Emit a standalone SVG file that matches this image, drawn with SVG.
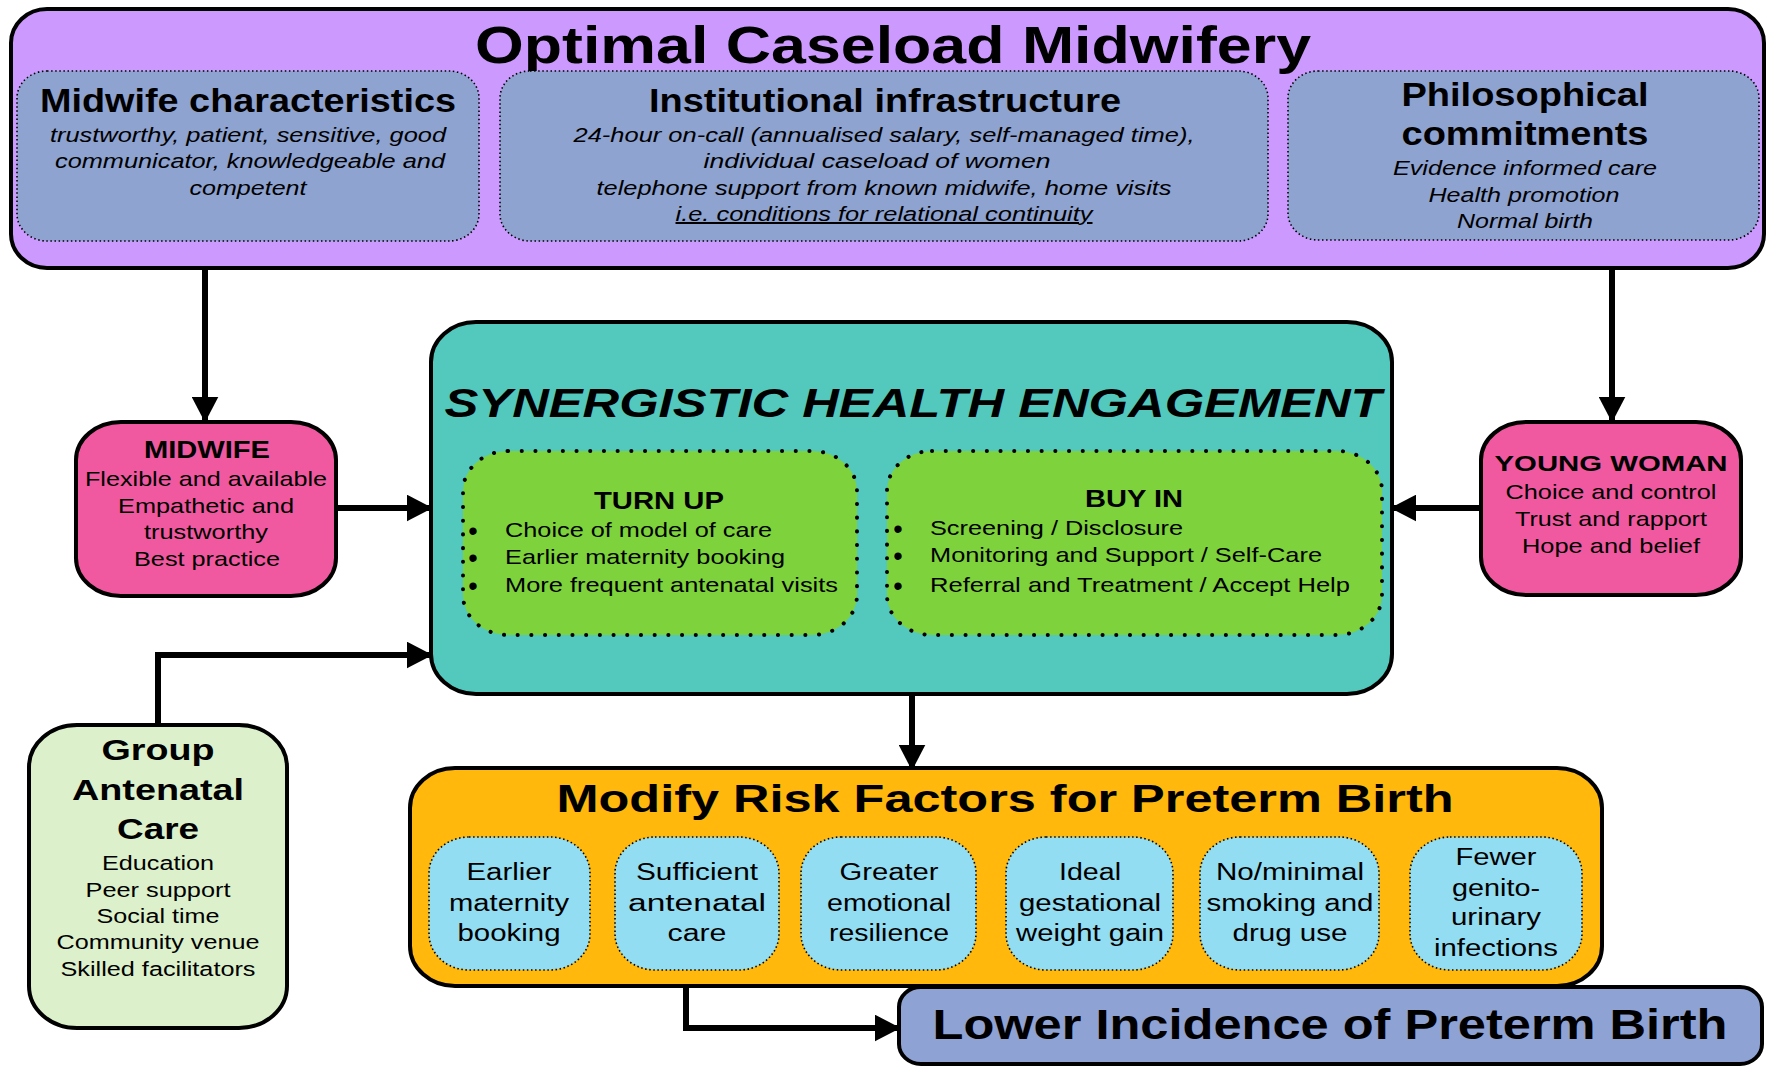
<svg xmlns="http://www.w3.org/2000/svg" width="1769" height="1066" viewBox="0 0 1769 1066">
<defs>
<style>
text{font-family:"Liberation Sans",Arial,sans-serif;fill:#000}
.c{text-anchor:middle}
.b{font-weight:bold}
.i{font-style:italic}
.sub{font-size:20px;font-style:italic}
.h2{font-size:33px;font-weight:bold}
.nb{font-size:21px}
.bul{font-size:27px;text-anchor:middle}
.bx{font-size:23px}
.frame{stroke:#000;stroke-width:4}
.dot{stroke:#000;stroke-width:1.6;stroke-dasharray:1.5 2.6;fill:#8EA3D0}
.gdot{stroke:#000;stroke-width:4;stroke-dasharray:0.1 13.6;stroke-linecap:round;fill:#7ED23B}
.bdot{stroke:#000;stroke-width:1.6;stroke-dasharray:1.5 2.6;fill:#93DDF2}
.con{fill:none;stroke:#000;stroke-width:6;marker-end:url(#ah)}
</style>
<marker id="ah" viewBox="0 0 10 10" refX="9" refY="5" markerUnits="userSpaceOnUse" markerWidth="26" markerHeight="27" orient="auto" preserveAspectRatio="none">
<path d="M0,0 L10,5 L0,10 z" fill="#000"/>
</marker>
</defs>
<rect width="1769" height="1066" fill="#fff"/>

<g id="optimal-caseload">
<rect class="frame" x="11" y="9" width="1753" height="259" rx="36" ry="34" fill="#CC99FF"/>
<text class="c b" x="893" y="63" font-size="52" textLength="836" lengthAdjust="spacingAndGlyphs">Optimal Caseload Midwifery</text>
<g id="midwife-characteristics">
<rect class="dot" x="17" y="71" width="462" height="170" rx="30" ry="27"/>
<text class="c h2" x="248" y="112" textLength="416" lengthAdjust="spacingAndGlyphs">Midwife characteristics</text>
<text class="c sub" x="248" y="142" textLength="396" lengthAdjust="spacingAndGlyphs">trustworthy, patient, sensitive, good</text>
<text class="c sub" x="250" y="168" textLength="390" lengthAdjust="spacingAndGlyphs">communicator, knowledgeable and</text>
<text class="c sub" x="248" y="195" textLength="117" lengthAdjust="spacingAndGlyphs">competent</text>
</g>
<g id="institutional-infrastructure">
<rect class="dot" x="500" y="71" width="768" height="170" rx="30" ry="27"/>
<text class="c h2" x="885" y="112" textLength="472" lengthAdjust="spacingAndGlyphs">Institutional infrastructure</text>
<text class="c sub" x="884" y="142" textLength="621" lengthAdjust="spacingAndGlyphs">24-hour on-call (annualised salary, self-managed time),</text>
<text class="c sub" x="877" y="168" textLength="347" lengthAdjust="spacingAndGlyphs">individual caseload of women</text>
<text class="c sub" x="884" y="195" textLength="575" lengthAdjust="spacingAndGlyphs">telephone support from known midwife, home visits</text>
<text class="c sub" x="884" y="221" textLength="417" lengthAdjust="spacingAndGlyphs" text-decoration="underline">i.e. conditions for relational continuity</text>
</g>
<g id="philosophical-commitments">
<rect class="dot" x="1288" y="71" width="471" height="169" rx="30" ry="27"/>
<text class="c h2" x="1525" y="106" textLength="247" lengthAdjust="spacingAndGlyphs">Philosophical</text>
<text class="c h2" x="1525" y="145" textLength="247" lengthAdjust="spacingAndGlyphs">commitments</text>
<text class="c sub" x="1525" y="175" textLength="264" lengthAdjust="spacingAndGlyphs">Evidence informed care</text>
<text class="c sub" x="1524" y="202" textLength="191" lengthAdjust="spacingAndGlyphs">Health promotion</text>
<text class="c sub" x="1525" y="228" textLength="136" lengthAdjust="spacingAndGlyphs">Normal birth</text>
</g>
</g>

<g id="connectors">
<path class="con" d="M205,268 V420"/>
<path class="con" d="M1612,268 V420"/>
<path class="con" d="M336,508 H430"/>
<path class="con" d="M1481,508 H1393"/>
<path class="con" d="M158,725 V655 H430"/>
<path class="con" d="M912,695 V768"/>
<path class="con" d="M686,987 V1028 H898"/>
</g>

<g id="synergistic">
<rect class="frame" x="431" y="322" width="961" height="372" rx="45" ry="40" fill="#53C9BD" stroke-width="5"/>
<text class="c b i" x="913" y="417" font-size="40" textLength="937" lengthAdjust="spacingAndGlyphs">SYNERGISTIC HEALTH ENGAGEMENT</text>
<g id="turn-up">
<rect class="gdot" x="463" y="451" width="394" height="184" rx="45" ry="40"/>
<text class="c b" x="659" y="509" font-size="23" textLength="130" lengthAdjust="spacingAndGlyphs">TURN UP</text>
<text class="bul" x="473" y="540">•</text>
<text class="nb" x="505" y="537" textLength="267" lengthAdjust="spacingAndGlyphs">Choice of model of care</text>
<text class="bul" x="473" y="567">•</text>
<text class="nb" x="505" y="564" textLength="280" lengthAdjust="spacingAndGlyphs">Earlier maternity booking</text>
<text class="bul" x="473" y="595">•</text>
<text class="nb" x="505" y="592" textLength="333" lengthAdjust="spacingAndGlyphs">More frequent antenatal visits</text>
</g>
<g id="buy-in">
<rect class="gdot" x="887" y="451" width="495" height="184" rx="45" ry="40"/>
<text class="c b" x="1134" y="507" font-size="23" textLength="98" lengthAdjust="spacingAndGlyphs">BUY IN</text>
<text class="bul" x="898" y="538">•</text>
<text class="nb" x="930" y="535" textLength="253" lengthAdjust="spacingAndGlyphs">Screening / Disclosure</text>
<text class="bul" x="898" y="565">•</text>
<text class="nb" x="930" y="562" textLength="392" lengthAdjust="spacingAndGlyphs">Monitoring and Support / Self-Care</text>
<text class="bul" x="898" y="595">•</text>
<text class="nb" x="930" y="592" textLength="420" lengthAdjust="spacingAndGlyphs">Referral and Treatment / Accept Help</text>
</g>
</g>

<g id="midwife">
<rect class="frame" x="76" y="422" width="260" height="174" rx="45" ry="38" fill="#F0599F"/>
<text class="c b" x="207" y="458" font-size="23" textLength="126" lengthAdjust="spacingAndGlyphs">MIDWIFE</text>
<text class="c nb" x="206" y="486" textLength="242" lengthAdjust="spacingAndGlyphs">Flexible and available</text>
<text class="c nb" x="206" y="513" textLength="176" lengthAdjust="spacingAndGlyphs">Empathetic and</text>
<text class="c nb" x="206" y="539" textLength="124" lengthAdjust="spacingAndGlyphs">trustworthy</text>
<text class="c nb" x="207" y="566" textLength="146" lengthAdjust="spacingAndGlyphs">Best practice</text>
</g>

<g id="young-woman">
<rect class="frame" x="1481" y="422" width="260" height="173" rx="45" ry="38" fill="#F0599F"/>
<text class="c b" x="1611" y="471" font-size="22" textLength="233" lengthAdjust="spacingAndGlyphs">YOUNG WOMAN</text>
<text class="c nb" x="1611" y="499" textLength="211" lengthAdjust="spacingAndGlyphs">Choice and control</text>
<text class="c nb" x="1611" y="526" textLength="192" lengthAdjust="spacingAndGlyphs">Trust and rapport</text>
<text class="c nb" x="1611" y="553" textLength="178" lengthAdjust="spacingAndGlyphs">Hope and belief</text>
</g>

<g id="group-antenatal-care">
<rect class="frame" x="29" y="725" width="258" height="303" rx="48" ry="42" fill="#DCF1CB"/>
<text class="c b" x="158" y="760" font-size="29" textLength="113" lengthAdjust="spacingAndGlyphs">Group</text>
<text class="c b" x="158" y="800" font-size="29" textLength="172" lengthAdjust="spacingAndGlyphs">Antenatal</text>
<text class="c b" x="158" y="839" font-size="29" textLength="82" lengthAdjust="spacingAndGlyphs">Care</text>
<text class="c" x="158" y="870" font-size="20" textLength="112" lengthAdjust="spacingAndGlyphs">Education</text>
<text class="c" x="158" y="897" font-size="20" textLength="145" lengthAdjust="spacingAndGlyphs">Peer support</text>
<text class="c" x="158" y="923" font-size="20" textLength="123" lengthAdjust="spacingAndGlyphs">Social time</text>
<text class="c" x="158" y="949" font-size="20" textLength="203" lengthAdjust="spacingAndGlyphs">Community venue</text>
<text class="c" x="158" y="976" font-size="20" textLength="195" lengthAdjust="spacingAndGlyphs">Skilled facilitators</text>
</g>

<g id="modify-risk-factors">
<rect class="frame" x="410" y="768" width="1192" height="218" rx="45" ry="40" fill="#FFB80B"/>
<text class="c b" x="1005" y="812" font-size="39" textLength="897" lengthAdjust="spacingAndGlyphs">Modify Risk Factors for Preterm Birth</text>
<g id="rf-earlier-booking">
<rect class="bdot" x="429" y="837" width="161" height="133" rx="40" ry="36"/>
<text class="c bx" x="509" y="880" textLength="85" lengthAdjust="spacingAndGlyphs">Earlier</text>
<text class="c bx" x="509" y="911" textLength="120" lengthAdjust="spacingAndGlyphs">maternity</text>
<text class="c bx" x="509" y="941" textLength="103" lengthAdjust="spacingAndGlyphs">booking</text>
</g>
<g id="rf-antenatal-care">
<rect class="bdot" x="615" y="837" width="164" height="133" rx="40" ry="36"/>
<text class="c bx" x="697" y="880" textLength="122" lengthAdjust="spacingAndGlyphs">Sufficient</text>
<text class="c bx" x="697" y="911" textLength="138" lengthAdjust="spacingAndGlyphs">antenatal</text>
<text class="c bx" x="697" y="941" textLength="59" lengthAdjust="spacingAndGlyphs">care</text>
</g>
<g id="rf-resilience">
<rect class="bdot" x="801" y="837" width="175" height="133" rx="40" ry="36"/>
<text class="c bx" x="889" y="880" textLength="99" lengthAdjust="spacingAndGlyphs">Greater</text>
<text class="c bx" x="889" y="911" textLength="124" lengthAdjust="spacingAndGlyphs">emotional</text>
<text class="c bx" x="889" y="941" textLength="120" lengthAdjust="spacingAndGlyphs">resilience</text>
</g>
<g id="rf-weight-gain">
<rect class="bdot" x="1006" y="837" width="167" height="133" rx="40" ry="36"/>
<text class="c bx" x="1090" y="880" textLength="62" lengthAdjust="spacingAndGlyphs">Ideal</text>
<text class="c bx" x="1090" y="911" textLength="142" lengthAdjust="spacingAndGlyphs">gestational</text>
<text class="c bx" x="1090" y="941" textLength="148" lengthAdjust="spacingAndGlyphs">weight gain</text>
</g>
<g id="rf-smoking">
<rect class="bdot" x="1200" y="837" width="179" height="133" rx="40" ry="36"/>
<text class="c bx" x="1290" y="880" textLength="148" lengthAdjust="spacingAndGlyphs">No/minimal</text>
<text class="c bx" x="1290" y="911" textLength="167" lengthAdjust="spacingAndGlyphs">smoking and</text>
<text class="c bx" x="1290" y="941" textLength="115" lengthAdjust="spacingAndGlyphs">drug use</text>
</g>
<g id="rf-infections">
<rect class="bdot" x="1410" y="837" width="172" height="133" rx="40" ry="36"/>
<text class="c bx" x="1496" y="865" textLength="81" lengthAdjust="spacingAndGlyphs">Fewer</text>
<text class="c bx" x="1496" y="896" textLength="88" lengthAdjust="spacingAndGlyphs">genito-</text>
<text class="c bx" x="1496" y="925" textLength="90" lengthAdjust="spacingAndGlyphs">urinary</text>
<text class="c bx" x="1496" y="956" textLength="124" lengthAdjust="spacingAndGlyphs">infections</text>
</g>
</g>

<g id="lower-incidence">
<rect class="frame" x="899" y="987" width="863" height="77" rx="22" ry="20" fill="#8FA2D4" stroke-width="5"/>
<text class="c b" x="1330" y="1039" font-size="42" textLength="795" lengthAdjust="spacingAndGlyphs">Lower Incidence of Preterm Birth</text>
</g>
</svg>
